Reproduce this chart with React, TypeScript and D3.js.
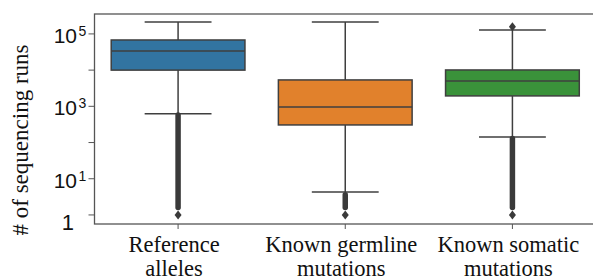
import React, { useEffect, useRef } from "react";
import { scaleBand, scaleLog, select } from "d3";

const categories = ["Reference alleles", "Known germline mutations", "Known somatic mutations"];
const labelLines = [
  ["Reference", "alleles"],
  ["Known germline", "mutations"],
  ["Known somatic", "mutations"],
];
const colors = ["#3274a1", "#e1812c", "#3a923a"];

// box stats
const q1 = [10000, 306, 1940];
const medians = [34000, 960, 5000];
const q3 = [68000, 5360, 10100];
const whiskerLow = [620, 4.3, 142];
const whiskerHigh = [214000, 214000, 129000];
// dense fliers below the lower whisker, drawn as a run of markers
const flierRunLow = [1.6, 1.6, 1.6];
const flierRunHigh = [580, 3.6, 130];
const flierSingles = [[1], [1], [1, 158000]];

const yTicks = [1, 10, 100, 1000, 10000, 100000];
const yLabels: Record<number, [string, string]> = {
  1: ["1", ""],
  10: ["10", "1"],
  1000: ["10", "3"],
  100000: ["10", "5"],
};

const W = 593;
const H = 280;
const left = 94.5;
const right = 596;
const top = 14;
const bottom = 224;
const edge = "#3f3f3f";

export default function App() {
  const svgRef = useRef<SVGSVGElement | null>(null);

  useEffect(() => {
    const svg = select(svgRef.current);
    svg.selectAll("*").remove();

    const x = scaleBand<string>().domain(categories).range([left, right]).padding(0);
    const y = scaleLog().domain([Math.pow(10, -0.25), Math.pow(10, 5.55)]).range([bottom, top]);
    const bw = x.bandwidth() * 0.8;

    categories.forEach((c, i) => {
      const cx = x(c)! + x.bandwidth() / 2;
      const x0 = cx - bw / 2;
      const g = svg.append("g");

      const seg = (x1: number, x2: number, y1: number, y2: number, color = edge, w = 1.5) =>
        g.append("line").attr("x1", x1).attr("x2", x2).attr("y1", y1).attr("y2", y2)
          .attr("stroke", color).attr("stroke-width", w);

      seg(cx, cx, y(q3[i]), y(whiskerHigh[i]));
      seg(cx, cx, y(q1[i]), y(whiskerLow[i]));
      seg(cx - bw / 4, cx + bw / 4, y(whiskerHigh[i]), y(whiskerHigh[i]));
      seg(cx - bw / 4, cx + bw / 4, y(whiskerLow[i]), y(whiskerLow[i]));

      g.append("rect")
        .attr("x", x0)
        .attr("y", y(q3[i]))
        .attr("width", bw)
        .attr("height", y(q1[i]) - y(q3[i]))
        .attr("fill", colors[i])
        .attr("stroke", edge)
        .attr("stroke-width", 1.5);
      seg(x0, x0 + bw, y(medians[i]), y(medians[i]));

      seg(cx, cx, y(flierRunLow[i]), y(flierRunHigh[i]), "#3a3a3a", 5.5).attr("stroke-linecap", "round");
      flierSingles[i].forEach((v) => {
        const vy = y(v);
        g.append("path")
          .attr("d", `M${cx},${vy - 4.5} L${cx + 3.5},${vy} L${cx},${vy + 4.5} L${cx - 3.5},${vy} Z`)
          .attr("fill", "#3a3a3a");
      });

      seg(cx, cx, bottom, bottom + 5, "#555", 1);

      labelLines[i].forEach((t, j) => {
        g.append("text")
          .attr("x", cx - 4)
          .attr("y", 252 + j * 24)
          .attr("text-anchor", "middle")
          .style("font-family", "'Liberation Serif', 'Times New Roman', serif")
          .style("font-size", "22.5px")
          .attr("fill", "#111")
          .text(t);
      });
    });

    svg.append("rect")
      .attr("x", left)
      .attr("y", top)
      .attr("width", right - left)
      .attr("height", bottom - top)
      .attr("fill", "none")
      .attr("stroke", "#555")
      .attr("stroke-width", 1.3);

    yTicks.forEach((t) => {
      const ty = y(t);
      svg.append("line")
        .attr("x1", left - 6).attr("x2", left).attr("y1", ty).attr("y2", ty)
        .attr("stroke", "#555").attr("stroke-width", 1);
      const lab = yLabels[t];
      if (!lab) return;
      if (lab[1] !== "") {
        svg.append("text")
          .attr("x", 77).attr("y", ty + 9)
          .attr("text-anchor", "end")
          .style("font-family", "'Liberation Sans', Arial, sans-serif")
          .style("font-size", "21px")
          .attr("fill", "#111")
          .text(lab[0]);
        svg.append("text")
          .attr("x", 78.5).attr("y", ty + 2)
          .style("font-family", "'Liberation Sans', Arial, sans-serif")
          .style("font-size", "14px")
          .attr("fill", "#111")
          .text(lab[1]);
      } else {
        svg.append("text")
          .attr("x", 74).attr("y", ty + 15)
          .attr("text-anchor", "end")
          .style("font-family", "'Liberation Sans', Arial, sans-serif")
          .style("font-size", "22px")
          .attr("fill", "#111")
          .text(lab[0]);
      }
    });

    svg.append("text")
      .attr("transform", "translate(28, 140) rotate(-90)")
      .attr("text-anchor", "middle")
      .style("font-family", "'Liberation Serif', 'Times New Roman', serif")
      .style("font-size", "23px")
      .attr("fill", "#111")
      .text("# of sequencing runs");
  }, []);

  return (
    <svg
      ref={svgRef}
      width={W}
      height={H}
      style={{ position: "absolute", left: 0, top: 0, background: "#fff" }}
    />
  );
}
